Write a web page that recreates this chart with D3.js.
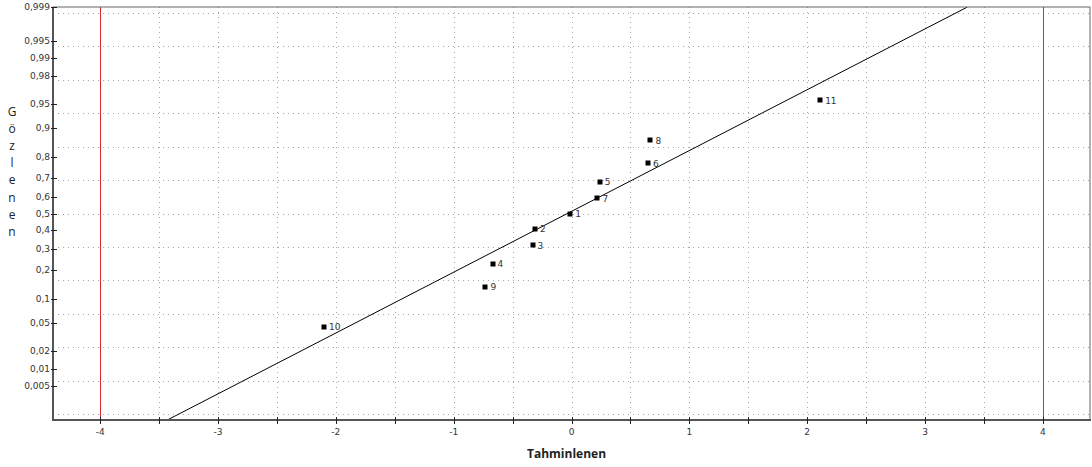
<!DOCTYPE html>
<html>
<head>
<meta charset="utf-8">
<script src="https://cdn.jsdelivr.net/npm/d3@7"></script>
<style>
  body { margin: 0; background: #fff; }
  svg { display: block; }
</style>
</head>
<body>
<svg id="chart" width="1092" height="467"></svg>
<script>
// DATA -----------------------------------------------------------------------

var pointIds    = ["1", "2", "3", "4", "5", "6", "7", "8", "9", "10", "11"];
var predicted   = [-0.01, -0.31, -0.33, -0.67, 0.24, 0.65, 0.22, 0.67, -0.73, -2.10, 2.11];
var observed    = [0.500, 0.409, 0.318, 0.227, 0.682, 0.773, 0.591, 0.864, 0.136, 0.045, 0.955];
var probTicks   = [0.999, 0.995, 0.99, 0.98, 0.95, 0.9, 0.8, 0.7, 0.6, 0.5, 0.4, 0.3, 0.2, 0.1, 0.05, 0.02, 0.01, 0.005];
var xTickValues = [-4, -3, -2, -1, 0, 1, 2, 3, 4];
var limitLines  = [-4, 4];
var fitLineX    = [-3.43, 3.36];
var fitLineP    = [0.001, 0.999];
var yTitle      = "Gözlenen";
var xTitle      = "Tahminlenen";

// HELPERS --------------------------------------------------------------------

/** Inverse normal CDF (Acklam approximation). */
function probit(p) {
    var a = [-3.969683028665376e+01, 2.209460984245205e+02, -2.759285104469687e+02,
             1.383577518672690e+02, -3.066479806614716e+01, 2.506628277459239e+00];
    var b = [-5.447609879822406e+01, 1.615858368580409e+02, -1.556989798598866e+02,
             6.680131188771972e+01, -1.328068155288572e+01];
    var c = [-7.784894002430293e-03, -3.223964580411365e-01, -2.400758277161838e+00,
             -2.549732539343734e+00, 4.374664141464968e+00, 2.938163982698783e+00];
    var d = [7.784695709041462e-03, 3.224671290700398e-01, 2.445134137142996e+00,
             3.754408661907416e+00];
    var pl = 0.02425, q, r;
    if (p < pl) {
        q = Math.sqrt(-2 * Math.log(p));
        return (((((c[0]*q+c[1])*q+c[2])*q+c[3])*q+c[4])*q+c[5]) /
               ((((d[0]*q+d[1])*q+d[2])*q+d[3])*q+1);
    }
    if (p > 1 - pl) {
        q = Math.sqrt(-2 * Math.log(1 - p));
        return -(((((c[0]*q+c[1])*q+c[2])*q+c[3])*q+c[4])*q+c[5]) /
                ((((d[0]*q+d[1])*q+d[2])*q+d[3])*q+1);
    }
    q = p - 0.5;
    r = q * q;
    return (((((a[0]*r+a[1])*r+a[2])*r+a[3])*r+a[4])*r+a[5])*q /
           (((((b[0]*r+b[1])*r+b[2])*r+b[3])*r+b[4])*r+1);
}

// LAYOUT ---------------------------------------------------------------------

var svg = d3.select("#chart");
var plotL = 53, plotT = 7, plotR = 1090, plotB = 420;
var font = "'DejaVu Sans', sans-serif";

var x = d3.scaleLinear().domain([-4.4, 4.4]).range([plotL, plotR]);
var yz = d3.scaleLinear().domain([probit(0.001), probit(0.999)]).range([plotB, plotT]);
function y(p) { return yz(probit(p)); }

// grid: dotted lines every 0.5 on both axes
var grid = svg.append("g").attr("stroke", "#a8a8a8").attr("stroke-dasharray", "1,4");
grid.selectAll(".vg").data(d3.range(-4, 4.01, 0.5)).enter()
    .append("line")
    .attr("x1", function(d) { return Math.round(x(d)) + 0.5; })
    .attr("x2", function(d) { return Math.round(x(d)) + 0.5; })
    .attr("y1", plotT).attr("y2", plotB);
grid.selectAll(".hg").data(d3.range(-3, 3.01, 0.5)).enter()
    .append("line")
    .attr("y1", function(d) { return Math.round(yz(d)) + 0.5; })
    .attr("y2", function(d) { return Math.round(yz(d)) + 0.5; })
    .attr("x1", plotL).attr("x2", plotR);

// red limit lines
svg.selectAll(".limit").data(limitLines).enter()
    .append("line")
    .attr("x1", function(d) { return Math.round(x(d)) + 0.5; })
    .attr("x2", function(d) { return Math.round(x(d)) + 0.5; })
    .attr("y1", plotT).attr("y2", plotB)
    .attr("stroke", "#d42b2b").attr("stroke-width", 1);

// fitted line
svg.append("defs").append("clipPath").attr("id", "plotClip")
   .append("rect").attr("x", plotL).attr("y", plotT)
   .attr("width", plotR - plotL).attr("height", plotB - plotT);
svg.append("line")
   .attr("clip-path", "url(#plotClip)")
   .attr("x1", x(fitLineX[0])).attr("y1", y(fitLineP[0]))
   .attr("x2", x(fitLineX[1])).attr("y2", y(fitLineP[1]))
   .attr("stroke", "#000").attr("stroke-width", 1);

// frame
svg.append("rect")
   .attr("x", plotL).attr("y", plotT)
   .attr("width", plotR - plotL).attr("height", plotB - plotT)
   .attr("fill", "none").attr("stroke", "#666").attr("stroke-width", 1);
svg.append("line").attr("x1", plotL).attr("x2", plotL).attr("y1", plotT).attr("y2", plotB + 1)
   .attr("stroke", "#555").attr("stroke-width", 2);
svg.append("line").attr("x1", plotL).attr("x2", plotR + 1).attr("y1", plotB).attr("y2", plotB)
   .attr("stroke", "#555").attr("stroke-width", 2);

// x axis ticks (every 0.5) and labels (integers)
svg.selectAll(".xt").data(d3.range(-4, 4.01, 0.5)).enter()
    .append("line")
    .attr("x1", function(d) { return Math.round(x(d)) + 0.5; })
    .attr("x2", function(d) { return Math.round(x(d)) + 0.5; })
    .attr("y1", plotB - 3).attr("y2", plotB + 4)
    .attr("stroke", "#222");
svg.selectAll(".xl").data(xTickValues).enter()
    .append("text")
    .attr("x", function(d) { return x(d); })
    .attr("y", plotB + 15)
    .attr("text-anchor", "middle")
    .attr("font-family", font).attr("font-size", 9).attr("fill", "#333")
    .text(function(d) { return d; });

// y axis ticks and labels
svg.selectAll(".yt").data(probTicks).enter()
    .append("line")
    .attr("y1", function(d) { return Math.round(y(d)) + 0.5; })
    .attr("y2", function(d) { return Math.round(y(d)) + 0.5; })
    .attr("x1", plotL - 2).attr("x2", plotL + 4)
    .attr("stroke", "#222");
svg.selectAll(".yl").data(probTicks).enter()
    .append("text")
    .attr("x", plotL - 3)
    .attr("y", function(d) { return y(d) + 3; })
    .attr("text-anchor", "end")
    .attr("font-family", font).attr("font-size", 9).attr("fill", "#333")
    .text(function(d) { return String(d).replace(".", ","); });

// points and labels
var pts = svg.selectAll(".pt").data(pointIds).enter().append("g");
pts.append("rect")
   .attr("x", function(d, i) { return Math.round(x(predicted[i])) - 2.5; })
   .attr("y", function(d, i) { return Math.round(y(observed[i])) - 2.5; })
   .attr("width", 5).attr("height", 5)
   .attr("fill", "#000");
pts.append("text")
   .attr("x", function(d, i) { return x(predicted[i]) + 5; })
   .attr("y", function(d, i) { return y(observed[i]) + 3.5; })
   .attr("font-family", font).attr("font-size", 9).attr("fill", "#333")
   .text(function(d) { return d; });

// titles
svg.append("text")
   .attr("x", x(0) - 5).attr("y", 458)
   .attr("text-anchor", "middle")
   .attr("font-family", "'Open Sans', sans-serif").attr("font-size", 12)
   .attr("font-weight", "bold").attr("fill", "#222")
   .text(xTitle);
svg.selectAll(".ytl").data(yTitle.split("")).enter()
   .append("text")
   .attr("x", 12)
   .attr("y", function(d, i) { return 116 + i * 17.1; })
   .attr("text-anchor", "middle")
   .attr("font-family", "'Open Sans', sans-serif").attr("font-size", 12)
   .attr("fill", "#222")
   .text(function(d) { return d; });
</script>
</body>
</html>
